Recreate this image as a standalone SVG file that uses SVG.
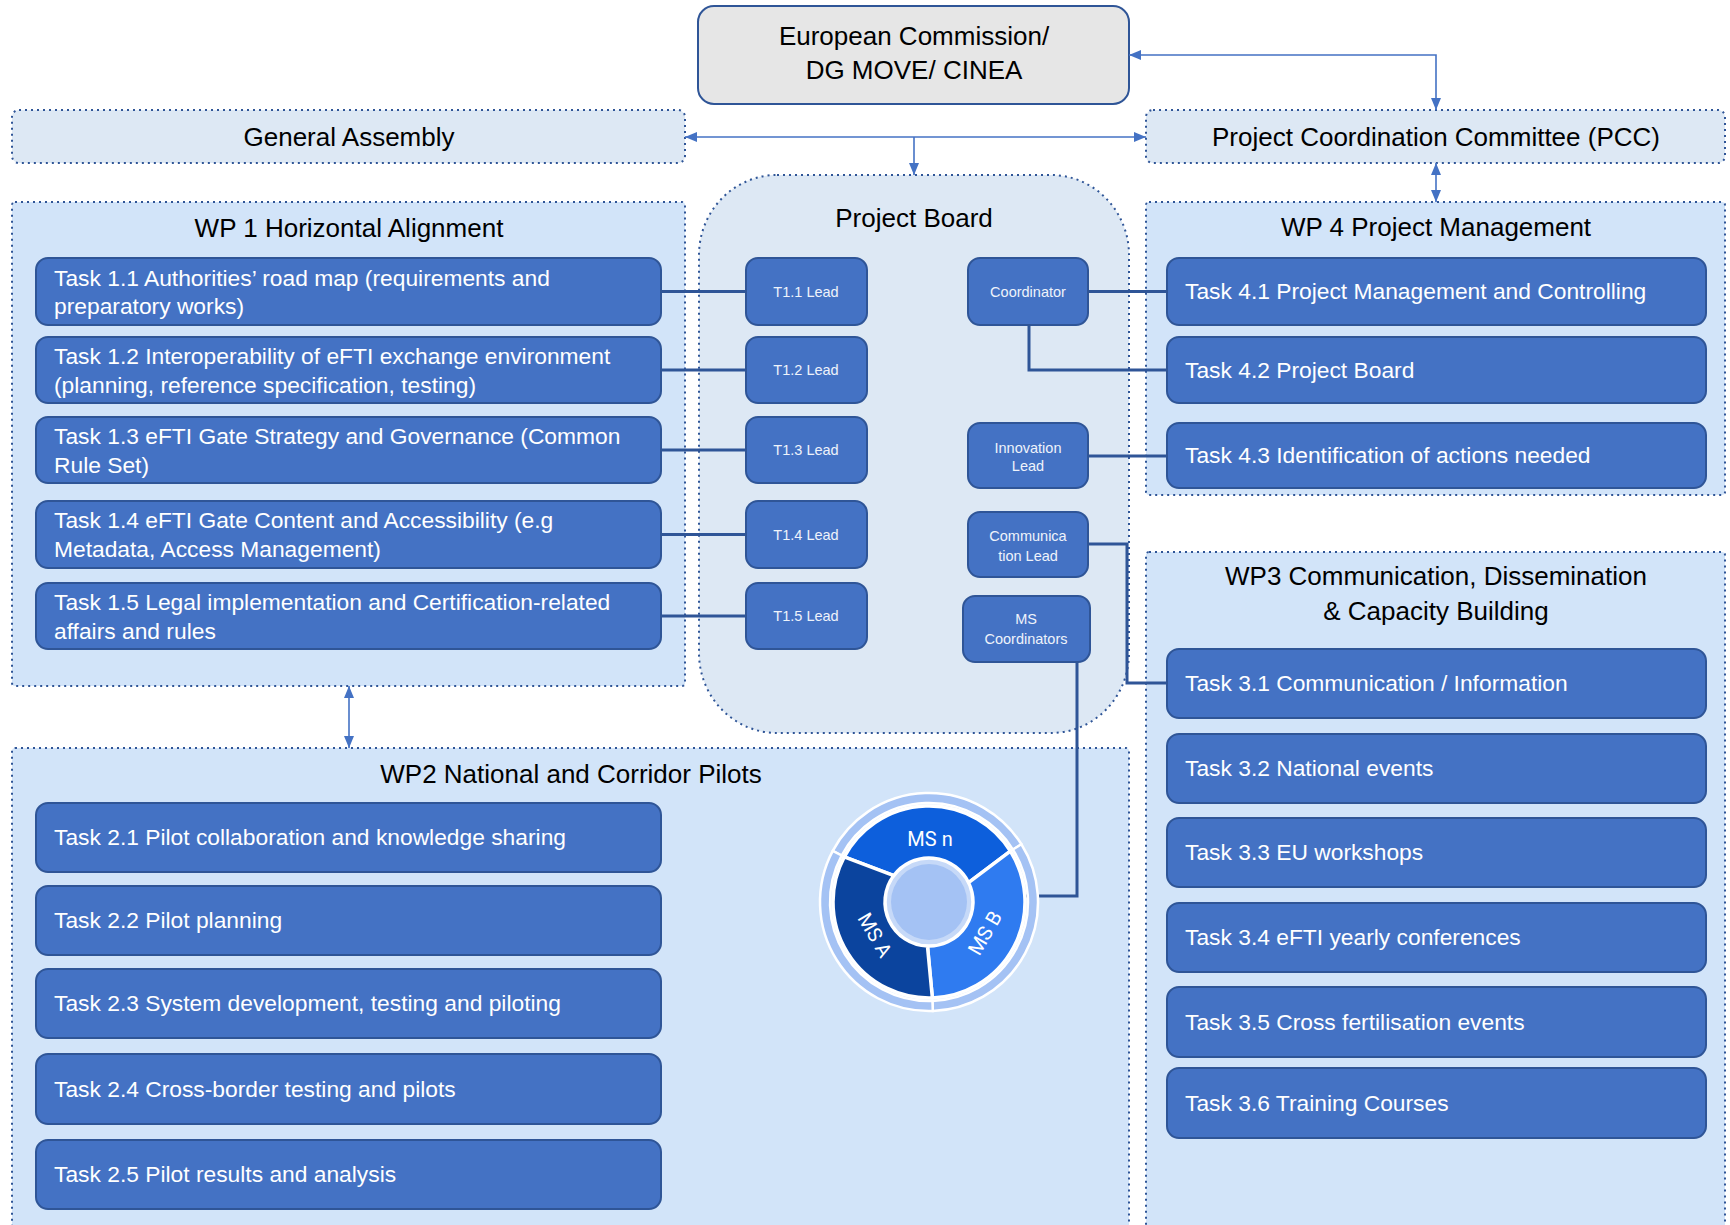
<svg xmlns="http://www.w3.org/2000/svg" width="1730" height="1225" viewBox="0 0 1730 1225">
<style>
.wp{fill:#d2e4f9;stroke:#2f5597;stroke-width:2;stroke-dasharray:2 4}
.gov{fill:#dde8f4;stroke:#2f5597;stroke-width:2;stroke-dasharray:2 4}
.ec{fill:#e6e6e6;stroke:#2f5597;stroke-width:2}
.task{fill:#4472c4;stroke:#2f5597;stroke-width:2}
.tt{font-family:"Liberation Sans",Arial,sans-serif;font-size:22.8px;fill:#ffffff}
.ti{font-family:"Liberation Sans",Arial,sans-serif;font-size:26px;fill:#000000;text-anchor:middle}
.tl{font-family:"Liberation Sans",Arial,sans-serif;font-size:14.5px;fill:#eef3fb;text-anchor:middle}
.ms{font-family:Roboto,"Liberation Sans",sans-serif;font-size:20px;fill:#ffffff;text-anchor:middle}
.conn{fill:none;stroke:#2f5597;stroke-width:3}
.arr{fill:none;stroke:#4472c4;stroke-width:1.6;marker-end:url(#ah)}
.arr2{fill:none;stroke:#4472c4;stroke-width:1.6;marker-start:url(#ah);marker-end:url(#ah)}
.seg{stroke:#ffffff;stroke-width:2.5}
.seg2{stroke:#ffffff;stroke-width:3.5;stroke-linejoin:round}
</style>
<defs>
<marker id="ah" viewBox="0 0 12 10" refX="12" refY="5" markerWidth="12" markerHeight="10" markerUnits="userSpaceOnUse" orient="auto-start-reverse">
<path d="M0,0 L12,5 L0,10 z" fill="#4472c4"/>
</marker>
</defs>

<!-- containers -->
<g id="wp2">
<rect class="wp" x="12" y="748" width="1117" height="500" rx="3"/>
<text class="ti" x="571" y="783">WP2 National and Corridor Pilots</text>
</g>
<g id="wp3">
<rect class="wp" x="1146" y="552" width="579" height="700" rx="3"/>
<text class="ti" x="1436" y="585">WP3 Communication, Dissemination</text>
<text class="ti" x="1436" y="620">&amp; Capacity Building</text>
</g>
<g id="wp1">
<rect class="wp" x="12" y="202" width="673" height="484" rx="3"/>
<text class="ti" x="349" y="237">WP 1 Horizontal Alignment</text>
</g>
<g id="wp4">
<rect class="wp" x="1146" y="202" width="579" height="293" rx="3"/>
<text class="ti" x="1436" y="236">WP 4 Project Management</text>
</g>
<g id="project-board">
<rect class="gov" x="699" y="175" width="430" height="558" rx="78" ry="80"/>
<text class="ti" x="914" y="227">Project Board</text>
</g>
<g id="general-assembly">
<rect class="gov" x="12" y="110" width="673" height="53" rx="7"/>
<text class="ti" x="349" y="146">General Assembly</text>
</g>
<g id="pcc">
<rect class="gov" x="1146" y="110" width="579" height="53" rx="7"/>
<text class="ti" x="1436" y="146">Project Coordination Committee (PCC)</text>
</g>
<g id="ec">
<rect class="ec" x="698" y="6" width="431" height="98" rx="16"/>
<text class="ti" x="914" y="45">European Commission/</text>
<text class="ti" x="914" y="79">DG MOVE/ CINEA</text>
</g>

<!-- connectors -->
<g id="connectors">
<path class="arr2" d="M1129,55 H1436 V110"/>
<path class="arr2" d="M685,137 H1146"/>
<path class="arr" d="M914,137 V175"/>
<path class="arr2" d="M1436,163 V202"/>
<path class="arr2" d="M349,686 V748"/>
<path class="conn" d="M661,291.5 H746"/>
<path class="conn" d="M661,370 H746"/>
<path class="conn" d="M661,450 H746"/>
<path class="conn" d="M661,534.5 H746"/>
<path class="conn" d="M661,616 H746"/>
<path class="conn" d="M1088,291.5 H1167"/>
<path class="conn" d="M1029,325 V370 H1167"/>
<path class="conn" d="M1088,456 H1167"/>
<path class="conn" d="M1088,544 H1127 V683 H1167"/>
<path class="conn" d="M1077,662 V896 H950"/>
</g>

<!-- WP1 tasks -->
<g id="task-1-1"><rect class="task" x="36" y="258" width="625" height="67" rx="12"/>
<text class="tt" x="54" y="286">Task 1.1 Authorities’ road map (requirements and</text>
<text class="tt" x="54" y="314">preparatory works)</text></g>
<g id="task-1-2"><rect class="task" x="36" y="337" width="625" height="66" rx="12"/>
<text class="tt" x="54" y="364">Task 1.2 Interoperability of eFTI exchange environment</text>
<text class="tt" x="54" y="393">(planning, reference specification, testing)</text></g>
<g id="task-1-3"><rect class="task" x="36" y="417" width="625" height="66" rx="12"/>
<text class="tt" x="54" y="444">Task 1.3 eFTI Gate Strategy and Governance (Common</text>
<text class="tt" x="54" y="473">Rule Set)</text></g>
<g id="task-1-4"><rect class="task" x="36" y="501" width="625" height="67" rx="12"/>
<text class="tt" x="54" y="528">Task 1.4 eFTI Gate Content and Accessibility (e.g</text>
<text class="tt" x="54" y="557">Metadata, Access Management)</text></g>
<g id="task-1-5"><rect class="task" x="36" y="583" width="625" height="66" rx="12"/>
<text class="tt" x="54" y="610">Task 1.5 Legal implementation and Certification-related</text>
<text class="tt" x="54" y="639">affairs and rules</text></g>

<!-- leads -->
<g id="lead-1-1"><rect class="task" x="746" y="258" width="121" height="67" rx="12"/><text class="tl" x="806" y="297">T1.1 Lead</text></g>
<g id="lead-1-2"><rect class="task" x="746" y="337" width="121" height="66" rx="12"/><text class="tl" x="806" y="375">T1.2 Lead</text></g>
<g id="lead-1-3"><rect class="task" x="746" y="417" width="121" height="66" rx="12"/><text class="tl" x="806" y="455">T1.3 Lead</text></g>
<g id="lead-1-4"><rect class="task" x="746" y="501" width="121" height="67" rx="12"/><text class="tl" x="806" y="540">T1.4 Lead</text></g>
<g id="lead-1-5"><rect class="task" x="746" y="583" width="121" height="66" rx="12"/><text class="tl" x="806" y="621">T1.5 Lead</text></g>
<g id="coordinator"><rect class="task" x="968" y="258" width="120" height="67" rx="12"/><text class="tl" x="1028" y="297">Coordinator</text></g>
<g id="innovation-lead"><rect class="task" x="968" y="423" width="120" height="65" rx="12"/><text class="tl" x="1028" y="453">Innovation</text><text class="tl" x="1028" y="471">Lead</text></g>
<g id="communication-lead"><rect class="task" x="968" y="512" width="120" height="65" rx="12"/><text class="tl" x="1028" y="541">Communica</text><text class="tl" x="1028" y="561">tion Lead</text></g>
<g id="ms-coordinators"><rect class="task" x="963" y="596" width="127" height="66" rx="12"/><text class="tl" x="1026" y="624">MS</text><text class="tl" x="1026" y="644">Coordinators</text></g>

<!-- WP4 tasks -->
<g id="task-4-1"><rect class="task" x="1167" y="258" width="539" height="67" rx="12"/><text class="tt" x="1185" y="299">Task 4.1 Project Management and Controlling</text></g>
<g id="task-4-2"><rect class="task" x="1167" y="337" width="539" height="66" rx="12"/><text class="tt" x="1185" y="378">Task 4.2 Project Board</text></g>
<g id="task-4-3"><rect class="task" x="1167" y="423" width="539" height="65" rx="12"/><text class="tt" x="1185" y="463">Task 4.3 Identification of actions needed</text></g>

<!-- WP3 tasks -->
<g id="task-3-1"><rect class="task" x="1167" y="649" width="539" height="69" rx="12"/><text class="tt" x="1185" y="691">Task 3.1 Communication / Information</text></g>
<g id="task-3-2"><rect class="task" x="1167" y="734" width="539" height="69" rx="12"/><text class="tt" x="1185" y="776">Task 3.2 National events</text></g>
<g id="task-3-3"><rect class="task" x="1167" y="818" width="539" height="69" rx="12"/><text class="tt" x="1185" y="860">Task 3.3 EU workshops</text></g>
<g id="task-3-4"><rect class="task" x="1167" y="903" width="539" height="69" rx="12"/><text class="tt" x="1185" y="945">Task 3.4 eFTI yearly conferences</text></g>
<g id="task-3-5"><rect class="task" x="1167" y="987" width="539" height="70" rx="12"/><text class="tt" x="1185" y="1030">Task 3.5 Cross fertilisation events</text></g>
<g id="task-3-6"><rect class="task" x="1167" y="1068" width="539" height="70" rx="12"/><text class="tt" x="1185" y="1111">Task 3.6 Training Courses</text></g>

<!-- WP2 tasks -->
<g id="task-2-1"><rect class="task" x="36" y="803" width="625" height="69" rx="12"/><text class="tt" x="54" y="845">Task 2.1 Pilot collaboration and knowledge sharing</text></g>
<g id="task-2-2"><rect class="task" x="36" y="886" width="625" height="69" rx="12"/><text class="tt" x="54" y="928">Task 2.2 Pilot planning</text></g>
<g id="task-2-3"><rect class="task" x="36" y="969" width="625" height="69" rx="12"/><text class="tt" x="54" y="1011">Task 2.3 System development, testing and piloting</text></g>
<g id="task-2-4"><rect class="task" x="36" y="1054" width="625" height="70" rx="12"/><text class="tt" x="54" y="1097">Task 2.4 Cross-border testing and pilots</text></g>
<g id="task-2-5"><rect class="task" x="36" y="1140" width="625" height="69" rx="12"/><text class="tt" x="54" y="1182">Task 2.5 Pilot results and analysis</text></g>

<!-- member state circle -->
<g id="ms-circle">
<path class="seg" fill="#a4c2f4" d="M832.76,850.82 A109,109 0 0 1 1021.43,844.24 L1012.95,849.54 A99,99 0 0 0 841.59,855.52 Z"/>
<path class="seg" fill="#a4c2f4" d="M1021.43,844.24 A109,109 0 0 1 932.80,1010.93 L932.46,1000.94 A99,99 0 0 0 1012.95,849.54 Z"/>
<path class="seg" fill="#a4c2f4" d="M932.80,1010.93 A109,109 0 0 1 832.76,850.82 L841.59,855.52 A99,99 0 0 0 932.46,1000.94 Z"/>
<path class="seg2" fill="#0d5fdc" d="M844.24,856.93 A96,96 0 0 1 1010.41,851.13 L968.55,882.71 A44,44 0 0 0 893.86,875.52 Z"/>
<path class="seg2" fill="#2f7bf0" d="M1010.41,851.13 A96,96 0 0 1 932.35,997.94 L927.46,945.97 A44,44 0 0 0 968.55,882.71 Z"/>
<path class="seg2" fill="#0b449e" d="M932.35,997.94 A96,96 0 0 1 844.24,856.93 L893.86,875.52 A44,44 0 0 0 927.46,945.97 Z"/>
<circle cx="929" cy="902" r="43" fill="#c6d9f8" stroke="#ffffff" stroke-width="1.5"/>
<circle cx="929" cy="902" r="38" fill="#a4c2f4"/>
<text class="ms" x="930" y="846">MS n</text>
<text class="ms" x="875" y="942" transform="rotate(60 875 935)">MS A</text>
<text class="ms" x="985" y="940" transform="rotate(-60 985 933)">MS B</text>
</g>
</svg>
